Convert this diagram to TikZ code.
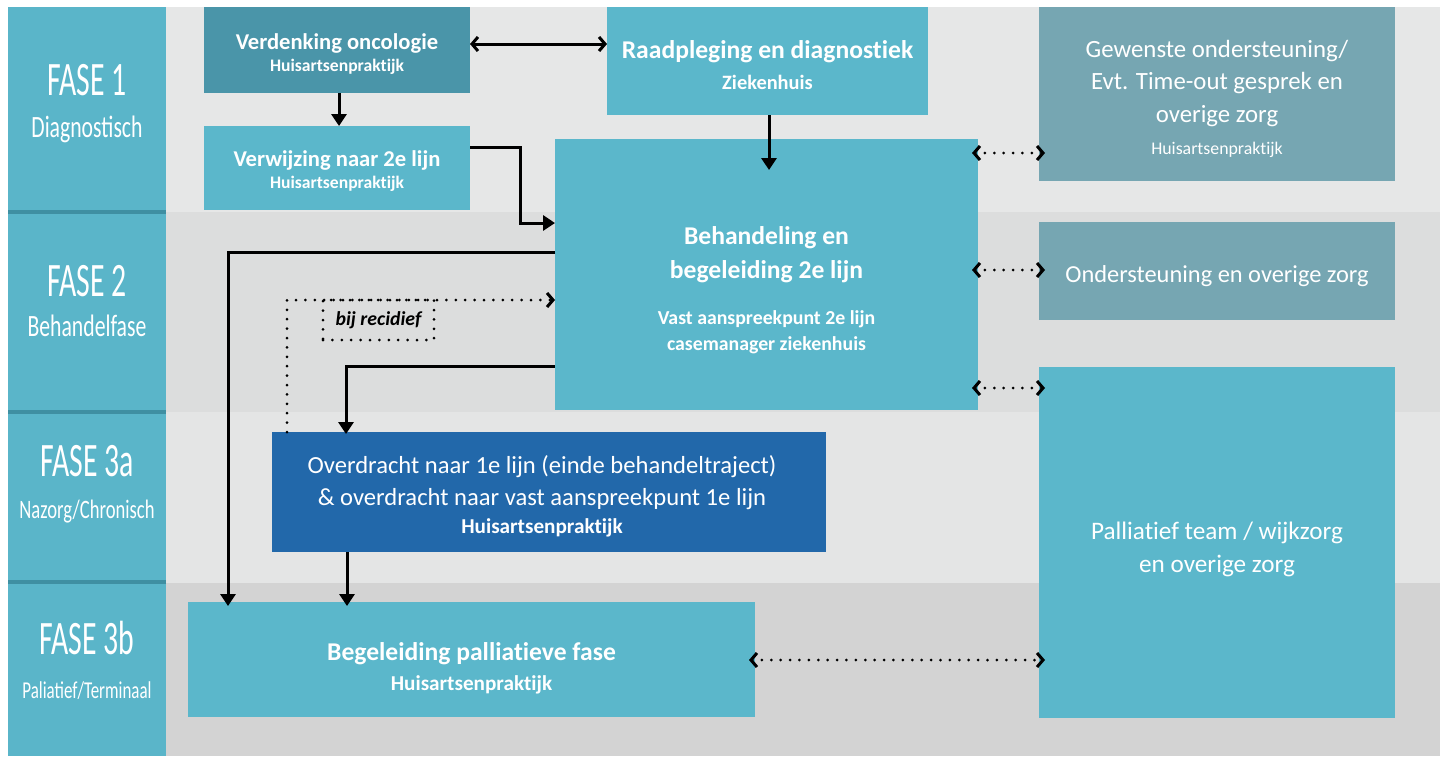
\documentclass[tikz,border=0pt]{standalone}
\usepackage{fontspec}
\setmainfont{Carlito}[Ligatures=NoCommon]
\newfontfamily\fasefont[FakeStretch=0.62]{Carlito}
\newfontfamily\fasesubfont[FakeStretch=0.7]{Carlito}
\usetikzlibrary{arrows.meta}

\definecolor{fasekolom}{HTML}{5AB5C9}
\definecolor{fasestreep}{HTML}{3F8FA2}
\definecolor{blok}{HTML}{5BB7CB}
\definecolor{blokdonker}{HTML}{4A95A9}
\definecolor{blokgrijs}{HTML}{76A6B2}
\definecolor{blokblauw}{HTML}{2268AA}
\definecolor{band1}{HTML}{E6E7E7}
\definecolor{band2}{HTML}{DCDDDD}
\definecolor{band3}{HTML}{E4E5E5}
\definecolor{band4}{HTML}{D3D3D3}

% regel met vaste grootte, vet of normaal
\newcommand{\vet}[2]{{\bfseries\fontsize{#1}{#1}\selectfont #2}}
\newcommand{\regel}[2]{{\fontsize{#1}{#1}\selectfont #2}}

\tikzset{
  blok/.style={fill=#1, inner sep=0pt, outer sep=0pt, anchor=north west},
  tekst/.style={text=white, align=center, inner sep=0pt, font=\fontsize{10}{12}\selectfont},
  fase/.style={text=white, align=center, font=\fontsize{10}{12}\selectfont},
  pijl/.style={line width=1.5pt, -{Triangle[length=6pt,width=7.5pt]}},
  tweepijl/.style={line width=1.5pt, {Straight Barb[length=3pt,width=7pt,line width=1.5pt]}-{Straight Barb[length=3pt,width=7pt,line width=1.5pt]}},
  stippel/.style={line width=1.5pt, line cap=round, dash pattern=on 0pt off 4.7pt},
  stippelpijl/.style={stippel, {Straight Barb[length=3pt,width=7pt,line width=1.5pt]}-{Straight Barb[length=3pt,width=7pt,line width=1.5pt]}, shorten <=-3pt, shorten >=-3pt}
}

\begin{document}
\begin{tikzpicture}[x=0.5pt, y=-0.5pt]
    \useasboundingbox (0,0) rectangle (1440,756);

    % achtergrond per fase
    \fill[band1] (166,7) rectangle (1440,212);
    \fill[band2] (166,212) rectangle (1440,412);
    \fill[band3] (166,412) rectangle (1440,583);
    \fill[band4] (166,583) rectangle (1440,756);

    % fasekolom
    \fill[fasekolom] (8,7) rectangle (166,756);
    \foreach \y in {212, 412, 582}
        \draw[fasestreep, line width=2pt] (8,\y) -- (166,\y);

    \node[fase] (fase1) at (87,104) {{\fasefont\regel{24}{FASE 1}}\\[9pt]{\fasesubfont\regel{15.5}{Diagnostisch}}};
    \node[fase] (fase2) at (87,301) {{\fasefont\regel{24}{FASE 2}}\\[8pt]{\fasesubfont\regel{15.5}{Behandelfase}}};
    \node[fase] (fase3a) at (87,484) {{\fasefont\regel{24}{FASE 3a}}\\[9pt]{\fasesubfont\regel{13.3}{Nazorg/Chronisch}}};
    \node[fase] (fase3b) at (87,660) {{\fasefont\regel{24}{FASE 3b}}\\[10pt]{\fasesubfont\regel{12.1}{Paliatief/Terminaal}}};

    % blokken
    \node[blok=blokdonker, minimum width=133pt, minimum height=43pt] (verdenking) at (204,7) {};
    \node[blok=blok, minimum width=133pt, minimum height=42pt] (verwijzing) at (204,126) {};
    \node[blok=blok, minimum width=160.5pt, minimum height=54pt] (raadpleging) at (607,7) {};
    \node[blok=blok, minimum width=211.5pt, minimum height=135.5pt] (behandeling) at (555,139) {};
    \node[blok=blokgrijs, minimum width=178pt, minimum height=87pt] (gewenste) at (1039,7) {};
    \node[blok=blokgrijs, minimum width=178pt, minimum height=49pt] (ondersteuning) at (1039,222) {};
    \node[blok=blok, minimum width=178pt, minimum height=175.5pt] (palliatief) at (1039,367) {};
    \node[blok=blokblauw, minimum width=277pt, minimum height=60pt] (overdracht) at (272,432) {};
    \node[blok=blok, minimum width=283.5pt, minimum height=57.5pt] (begeleiding) at (188,602) {};

    % teksten in de blokken
    \node[tekst] (verdenking-t) at ([yshift=-2pt]verdenking.center)
        {\vet{11.3}{Verdenking oncologie}\\[-1pt]\vet{8.8}{Huisartsenpraktijk}};
    \node[tekst] (verwijzing-t) at ([yshift=-1.5pt]verwijzing.center)
        {\vet{11.3}{Verwijzing naar 2e lijn}\\[-1pt]\vet{8.8}{Huisartsenpraktijk}};
    \node[tekst] (raadpleging-t) at ([yshift=-2.25pt]raadpleging.center)
        {\vet{12.8}{Raadpleging en diagnostiek}\\[3.5pt]\vet{10.2}{Ziekenhuis}};
    \node[tekst] (behandeling-t) at ([yshift=-8pt]behandeling.center)
        {\vet{12.8}{Behandeling en}\\[5pt]\vet{12.8}{begeleiding 2e lijn}\\[11pt]\vet{9.9}{Vast aanspreekpunt 2e lijn}\\[1pt]\vet{9.9}{casemanager ziekenhuis}};
    \node[tekst] (gewenste-t) at ([yshift=-2.25pt]gewenste.center)
        {\regel{12.4}{Gewenste ondersteuning/}\\[4pt]\regel{12.4}{Evt. Time-out gesprek en}\\[4.5pt]\regel{12.4}{overige zorg}\\[4pt]\regel{8.9}{Huisartsenpraktijk}};
    \node[tekst] (ondersteuning-t) at ([yshift=-2.5pt]ondersteuning.center)
        {\regel{12.2}{Ondersteuning en overige zorg}};
    \node[tekst] (palliatief-t) at ([yshift=-3.25pt]palliatief.center)
        {\regel{12.6}{Palliatief team / wijkzorg}\\[4.5pt]\regel{12.6}{en overige zorg}};
    \node[tekst] (overdracht-t) at ([xshift=-3.5pt,yshift=-2.25pt]overdracht.center)
        {\regel{12.3}{Overdracht naar 1e lijn (einde behandeltraject)}\\[4pt]\regel{12.3}{\& overdracht naar vast aanspreekpunt 1e lijn}\\[2pt]\vet{10.6}{Huisartsenpraktijk}};
    \node[tekst] (begeleiding-t) at ([yshift=-4.5pt]begeleiding.center)
        {\vet{12.8}{Begeleiding palliatieve fase}\\[3pt]\vet{10.6}{Huisartsenpraktijk}};

    \node[draw, stippel, minimum width=55.5pt, minimum height=20pt, inner sep=0pt,
          font=\bfseries\itshape\fontsize{9.9}{10}\selectfont] (recidief) at (378.5,320) {bij recidief};

    % verbindingen
    \draw[tweepijl] (verdenking.east |- 0,44) -- (raadpleging.west |- 0,44);
    \draw[pijl] (verdenking.south -| 339,0) -- (verwijzing.north -| 339,0);
    \draw[pijl] (verwijzing.east |- 0,147) -- ++(50,0) |- (behandeling.west |- 0,223);
    \draw[pijl] (raadpleging.south -| 769,0) -- ++(0,55);
    \draw[pijl] (behandeling.west |- 0,252) -| ([xshift=20pt,yshift=-2pt]begeleiding.north west);
    \draw[pijl] (behandeling.west |- 0,366) -| ([xshift=37pt,yshift=-1pt]overdracht.north west);
    \draw[pijl] (overdracht.south -| 347,0) -- ([yshift=-2pt]begeleiding.north -| 347,0);
    \draw[stippel, -{Straight Barb[length=3pt,width=7pt,line width=1.5pt]}] (overdracht.north -| 287,0) |- (behandeling.west |- 0,300);

    % stippellijnen naar overige zorg
    \draw[stippelpijl] (behandeling.east |- 0,153) -- (gewenste.west |- 0,153);
    \draw[stippelpijl] (behandeling.east |- 0,270) -- (ondersteuning.west |- 0,270);
    \draw[stippelpijl] (behandeling.east |- 0,388) -- (palliatief.west |- 0,388);
    \draw[stippelpijl] (begeleiding.east |- 0,660) -- (palliatief.west |- 0,660);
\end{tikzpicture}
\end{document}
